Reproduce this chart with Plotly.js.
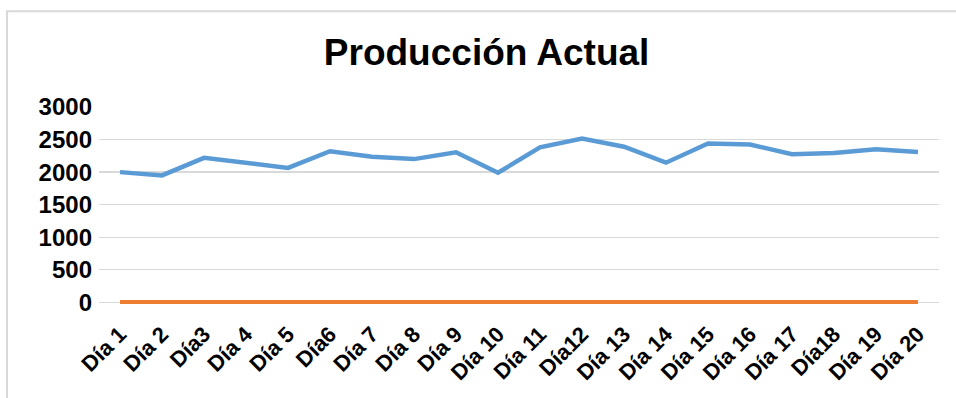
<!DOCTYPE html>
<html>
<head>
<meta charset="utf-8">
<script src="https://cdn.plot.ly/plotly-3.0.1.min.js"></script>
<style>html,body{margin:0;padding:0;background:#fff;}#chart{width:956px;height:398px;}</style>
</head>
<body>
<div id="chart"></div>
<script>
const days = ["Día 1","Día 2","Día3","Día 4","Día 5","Día6","Día 7","Día 8","Día 9","Día 10","Día 11","Día12","Día 13","Día 14","Día 15","Día 16","Día 17","Día18","Día 19","Día 20"];
const produccion = [2000,1950,2220,2135,2065,2320,2235,2200,2305,1990,2380,2515,2390,2145,2440,2425,2275,2295,2350,2310];
const serie2 = [0,0,0,0,0,0,0,0,0,0,0,0,0,0,0,0,0,0,0,0];
const yTicks = [0,500,1000,1500,2000,2500,3000];

const font = "Arial, 'Liberation Sans', sans-serif";
const traces = [
  {x: days, y: produccion, type: 'scatter', mode: 'lines', line: {color: '#5b9bd5', width: 4.5}, name: 'Producción'},
  {x: days, y: serie2, type: 'scatter', mode: 'lines', line: {color: '#ed7d31', width: 4.5}, name: 'Serie 2'}
];
const layout = {
  width: 956, height: 398,
  margin: {l: 99, r: 17, t: 107, b: 94.4},
  paper_bgcolor: '#fff', plot_bgcolor: '#fff',
  showlegend: false,
  title: {text: '<b>Producción Actual</b>', font: {family: font, size: 37, color: '#000'}, x: 0.509, xanchor: 'center', y: 0.87, yanchor: 'middle'},
  xaxis: {type: 'category', range: [-0.5, 19.5], tickangle: -45, showgrid: false, zeroline: false, showline: false, ticks: '',
          ticklabelstandoff: 12, tickfont: {family: font, size: 22, color: '#000', weight: 'bold'}},
  yaxis: {range: [-25, 3000], tickvals: yTicks, ticktext: yTicks.map(String), showgrid: true, gridcolor: '#d9d9d9', gridwidth: 1.3, zeroline: false, showline: false, ticks: '',
          ticklabelstandoff: 6, tickfont: {family: font, size: 24, color: '#000', weight: 'bold'}},
  shapes: [{type: 'rect', xref: 'paper', yref: 'paper', x0: -0.1095, x1: 1.1, y0: -1, y1: 1.486, line: {color: '#d9d9d9', width: 2}}]
};
Plotly.newPlot('chart', traces, layout, {displayModeBar: false, staticPlot: true});
</script>
</body>
</html>
